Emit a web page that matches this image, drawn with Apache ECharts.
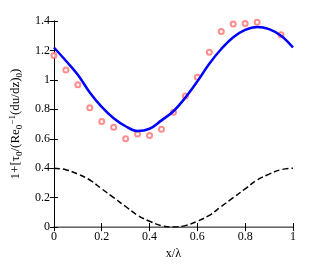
<!DOCTYPE html>
<html><head><meta charset="utf-8">
<script src="https://cdn.jsdelivr.net/npm/echarts@6/dist/echarts.min.js"></script>
<style>html,body{margin:0;padding:0;background:#fff}#c{width:324px;height:265px}</style>
</head><body><div id="c"></div>
<script>
const xs = [0,0.05,0.1,0.15,0.2,0.25,0.3,0.35,0.4,0.45,0.5,0.55,0.6,0.65,0.7,0.75,0.8,0.85,0.9,0.95,1.0];
const blueLine = [1.22,1.13,1.035,0.915,0.817,0.74,0.685,0.652,0.668,0.725,0.787,0.88,0.99,1.11,1.21,1.29,1.34,1.36,1.345,1.30,1.22];
const dashedLine = [0.40,0.39,0.36,0.32,0.26,0.20,0.14,0.08,0.04,0.01,0.00,0.01,0.04,0.08,0.14,0.20,0.26,0.32,0.36,0.39,0.40];
const circleX = [0,0.05,0.1,0.15,0.2,0.25,0.3,0.35,0.4,0.45,0.5,0.55,0.6,0.65,0.7,0.75,0.8,0.85,0.9,0.95];
const circleY = [1.165,1.067,0.967,0.81,0.717,0.678,0.60,0.632,0.623,0.665,0.78,0.89,1.018,1.187,1.329,1.379,1.383,1.392,1.405,1.307];
const xTicks = [0,0.2,0.4,0.6,0.8,1];
const yTicks = [0,0.2,0.4,0.6,0.8,1,1.2,1.4];

const font = 'Liberation Serif';
const chart = echarts.init(document.getElementById('c'));
const pair = (a,b)=>a.map((v,i)=>[v,b[i]]);
const baseX = {type:'value',min:0,max:1,interval:0.2,splitLine:{show:false},
  axisTick:{inside:true,length:4,lineStyle:{color:'#000'}},axisLine:{lineStyle:{color:'#000'}}};
const baseY = {type:'value',min:0,max:1.4,interval:0.2,splitLine:{show:false},
  axisTick:{inside:true,length:4,lineStyle:{color:'#000'}},axisLine:{lineStyle:{color:'#000'}}};
chart.setOption({
  animation:false,
  grid:{left:43,right:31,top:21,bottom:30},
  xAxis:[
    Object.assign({},baseX,{position:'bottom',name:'x/λ',nameLocation:'middle',nameGap:13,
      nameTextStyle:{fontFamily:font,fontSize:12,color:'#000'},
      axisLabel:{fontFamily:font,fontSize:12,color:'#000',margin:4,formatter:v=>xTicks.includes(+v.toFixed(1))?String(+v.toFixed(1)):''}}),
    Object.assign({},baseX,{position:'top',axisLabel:{show:false},axisLine:{lineStyle:{color:'#888',width:1.5}}})
  ],
  yAxis:[
    Object.assign({},baseY,{position:'left',nameLocation:'middle',nameGap:27,nameRotate:90,
      name:'1+[τ{s|0}/(Re{s|0}{p|−1}(du/dz){s|0})',
      nameTextStyle:{fontFamily:font,fontSize:13,color:'#000',
        rich:{s:{fontFamily:font,fontSize:9,verticalAlign:'bottom',padding:[7,0,0,0]},
              p:{fontFamily:font,fontSize:9,verticalAlign:'top',padding:[0,0,7,0]}}},
      axisLabel:{fontFamily:font,fontSize:12,color:'#000',margin:4,formatter:v=>{const r=+v.toFixed(1);return yTicks.includes(r)?String(r):'';}}}),
    Object.assign({},baseY,{position:'right',axisLabel:{show:false}})
  ],
  series:[
    {type:'line',data:pair(xs,blueLine),smooth:0.4,showSymbol:false,lineStyle:{color:'#0000ff',width:2.5}},
    {type:'line',data:pair(xs,dashedLine),smooth:0.4,showSymbol:false,lineStyle:{color:'#000',width:1.5,type:[6,3]}},
    {type:'scatter',data:pair(circleX,circleY),symbol:'emptyCircle',symbolSize:5,itemStyle:{color:'#ff7070',borderColor:'#ff7070',borderWidth:0.9}}
  ]
});
</script></body></html>
